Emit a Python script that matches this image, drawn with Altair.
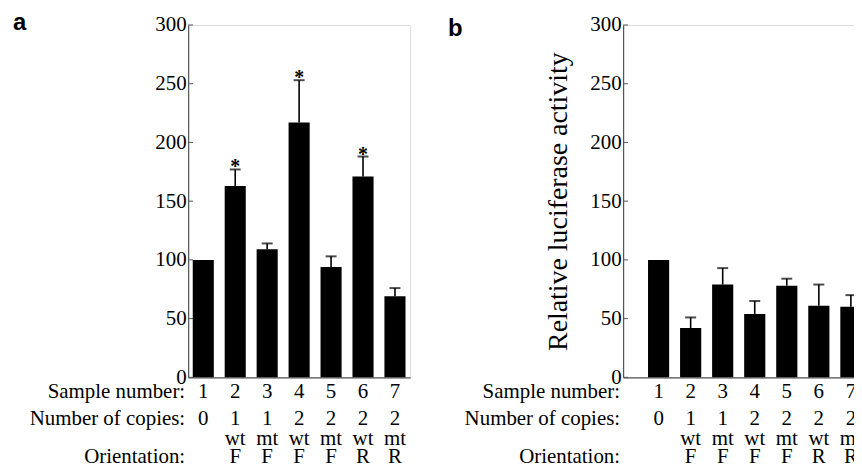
import altair as alt
import pandas as pd

samples = ["1", "2", "3", "4", "5", "6", "7"]
copies = ["0", "1", "1", "2", "2", "2", "2"]
kinds = ["", "wt", "mt", "wt", "mt", "wt", "mt"]
orients = ["", "F", "F", "F", "F", "R", "R"]

a_values = [100, 163, 109, 217, 94, 171, 69]
a_upper = [100, 177, 114, 253, 103, 188, 76]
a_sig = ["", "*", "", "*", "", "*", ""]

b_values = [100, 42, 79, 54, 78, 61, 60]
b_upper = [100, 51, 93, 65, 84, 79, 70]
b_sig = ["", "", "", "", "", "", ""]

y_ticks = [0, 50, 100, 150, 200, 250, 300]
row_headers = ["Sample number:", "Number of copies:", "Orientation:"]

SERIF = "Liberation Serif"
FS = 21
H = 354
AXIS_COLOR = "#555555"


def panel(values, upper, sig, letter, letter_y, title, width, pad_outer, align):
    df = pd.DataFrame({
        "sample": samples, "copies": copies, "kind": kinds, "orient": orients,
        "value": values, "upper": upper, "sig": sig,
    })
    err = df[df["upper"] > df["value"]]
    xscale = alt.Scale(domain=samples, paddingInner=0.34, paddingOuter=pad_outer,
                       align=align, round=False)
    x = alt.X("sample:N", scale=xscale,
              axis=alt.Axis(labels=False, ticks=False, title=None, domainColor=AXIS_COLOR,
                            domainWidth=1.2))
    yaxis = alt.Axis(values=y_ticks, ticks=False, grid=False, labelPadding=2,
                     labelFont=SERIF, labelFontSize=FS, labelColor="black",
                     domainColor=AXIS_COLOR, domainWidth=1.2,
                     title=title if title else None,
                     titleFont=SERIF, titleFontSize=28, titleFontWeight="normal",
                     titleColor="black", titlePadding=17)
    y = alt.Y("value:Q", scale=alt.Scale(domain=[0, 300], nice=False), axis=yaxis)

    base = alt.Chart(df)
    bars = base.mark_bar(color="black").encode(x=x, y=y)
    rules = alt.Chart(err).mark_rule(color="black", strokeWidth=1.6).encode(
        x=alt.X("sample:N", scale=xscale), y="value:Q", y2="upper:Q")
    caps = alt.Chart(err).mark_tick(color="black", size=11, thickness=2).encode(
        x=alt.X("sample:N", scale=xscale), y="upper:Q")
    stars = alt.Chart(df[df["sig"] != ""]).mark_text(
        font=SERIF, fontSize=20, fontWeight="bold", baseline="alphabetic", dy=4,
        color="black").encode(x=alt.X("sample:N", scale=xscale), y="upper:Q", text="sig:N")
    tdf = pd.DataFrame({"t": y_ticks})
    ticks = alt.Chart(tdf).mark_rule(color=AXIS_COLOR, strokeWidth=1).encode(
        x=alt.value(0), x2=alt.value(5),
        y=alt.Y("t:Q", scale=alt.Scale(domain=[0, 300], nice=False)))

    layers = [bars, rules, caps, stars, ticks]
    row_y = [H + 21, H + 48, H + 68, H + 86]
    for field, yy in zip(["sample", "copies", "kind", "orient"], row_y):
        layers.append(base.mark_text(font=SERIF, fontSize=FS, baseline="alphabetic",
                                     color="black").encode(
            x=alt.X("sample:N", scale=xscale), y=alt.value(yy), text=f"{field}:N"))
    for text, yy in zip(row_headers, [row_y[0], row_y[1], row_y[3]]):
        layers.append(alt.Chart(pd.DataFrame({"t": [text]})).mark_text(
            font=SERIF, fontSize=FS, baseline="alphabetic", align="right",
            color="black").encode(x=alt.value(-3), y=alt.value(yy), text="t:N"))
    layers.append(alt.Chart(pd.DataFrame({"t": [letter]})).mark_text(
        font="Liberation Sans", fontSize=24, fontWeight="bold", baseline="alphabetic",
        align="left", color="black").encode(x=alt.value(-176), y=alt.value(letter_y), text="t:N"))
    return alt.layer(*layers).properties(width=width, height=H)


pa = panel(a_values, a_upper, a_sig, "a", 5, None, 223, 0.1435, 0.5)
pb = panel(b_values, b_upper, b_sig, "b", 11, "Relative luciferase activity", 239.5, 0.389, 1)

chart = alt.hconcat(pa, pb, spacing=36).properties(
    padding={"left": 4, "top": 1, "right": -9, "bottom": -5}
).configure_view(stroke=None).configure(background="white")

chart.save("out.html", embed_options={"renderer": "svg", "actions": False})
